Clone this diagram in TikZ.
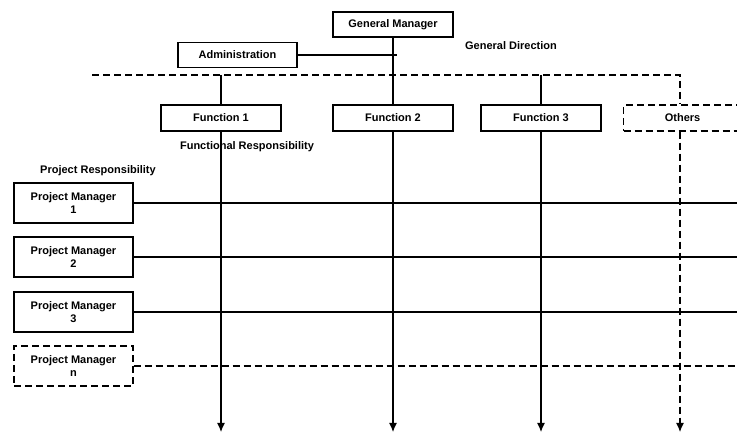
\documentclass[tikz,border=0pt]{standalone}
\usepackage{fontspec}
\setmainfont{Liberation Sans}
\usetikzlibrary{positioning,arrows.meta}
\tikzset{
  org box/.style = {
    shape = rectangle,
    align = center,
    draw  = black,
    line width = 1.2pt,
    inner sep = 0pt,
    minimum width = #1,
    minimum height = 25pt,
    font = \fontsize{11}{13}\selectfont\bfseries},
  org box/.default = 119pt,
  pm box/.style = {org box, minimum height = 40pt},
  open box/.style = {dash pattern = on 7pt off 4pt},
  label text/.style = {font = \fontsize{11}{13}\selectfont\bfseries},
  link/.style = {line width = 1.2pt},
  open link/.style = {link, dash pattern = on 7pt off 4pt}
}

\begin{document}
\begin{tikzpicture}[x = 1pt, y = -1pt, >={Latex[length=9pt,width=8pt]}]
  \useasboundingbox (0,0) rectangle (737,435);
  % general direction
  \node[org box = 120pt] (manager) at (393,24.5) {General Manager};
  \node[org box] (admin) at (237.5,55) {Administration};
  \node[label text] (direction) at (511,46) {General Direction};
  % functions
  \node[org box = 120pt, minimum height = 26pt] (func1) at (221,118) {Function 1};
  \node[org box = 120pt, minimum height = 26pt] (func2) at (393,118) {Function 2};
  \node[org box = 120pt, minimum height = 26pt] (func3) at (541,118) {Function 3};
  \node[org box = 118pt, minimum height = 26pt, open box, anchor = west] (others) at (623,118) {Others};
  \node[label text] (funcresp) at (247,147) {Functional Responsibility};
  \node[label text] (projresp) at (98,171) {Project Responsibility};
  % projects
  \node[pm box] (pm1) at (73.5,203) {Project Manager\\1};
  \node[pm box] (pm2) at (73.5,257) {Project Manager\\2};
  \node[pm box] (pm3) at (73.5,312) {Project Manager\\3};
  \node[pm box, open box] (pmn) at (73.5,366) {Project Manager\\n};
  % helper points
  \coordinate (dashleft) at (92,75);
  \coordinate (dashright) at (680,75);
  \coordinate (adminjoin) at (397,55);
  \coordinate (edge) at (737,0);
  \coordinate (bottom) at (0,432);

  \draw[link] (manager.south) -- (func2.north);
  \draw[link] (admin.east) -- (admin.east -| adminjoin);
  \draw[open link] (dashleft) -- (dashright) -- (dashright |- others.north);
  \draw[link] (func1.north |- dashleft) -- (func1.north);
  \draw[link] (func3.north |- dashleft) -- (func3.north);
  % functional lines
  \draw[link, ->] (func1.south) -- (func1.south |- bottom);
  \draw[link, ->] (func2.south) -- (func2.south |- bottom);
  \draw[link, ->] (func3.south) -- (func3.south |- bottom);
  \draw[open link, ->] (dashright |- others.south) -- (dashright |- bottom);
  % project lines
  \draw[link] (pm1.east) -- (pm1.east -| edge);
  \draw[link] (pm2.east) -- (pm2.east -| edge);
  \draw[link] (pm3.east) -- (pm3.east -| edge);
  \draw[open link] (pmn.east) -- (pmn.east -| edge);
\end{tikzpicture}
\end{document}
